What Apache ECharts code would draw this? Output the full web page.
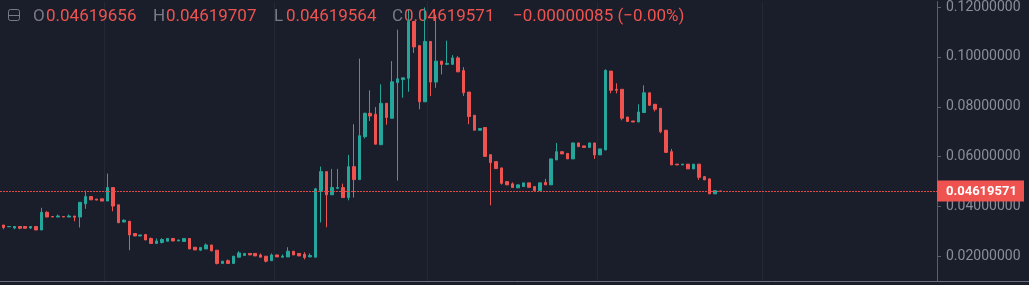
<!DOCTYPE html>
<html>
<head>
<meta charset="utf-8">
<script src="https://cdn.jsdelivr.net/npm/echarts@6/dist/echarts.min.js"></script>
<style>
  html, body { margin: 0; padding: 0; background: #1a1e2b; }
  #chart { width: 1029px; height: 285px; }
</style>
</head>
<body>
<div id="chart"></div>
<script>
// daily candles, [open, close, low, high] split into separate lists
const opens = [
  0.0326, 0.0319, 0.0314, 0.0320, 0.0320, 0.0314, 0.0320, 0.0306, 0.0377, 0.0360,
  0.0358, 0.0360, 0.0358, 0.0362, 0.0358, 0.0411, 0.0440, 0.0430, 0.0431, 0.0422,
  0.0476, 0.0407, 0.0338, 0.0341, 0.0292, 0.0282, 0.0288, 0.0272, 0.0252, 0.0256,
  0.0261, 0.0272, 0.0262, 0.0260, 0.0272, 0.0237, 0.0225, 0.0230, 0.0246, 0.0225,
  0.0172, 0.0183, 0.0172, 0.0197, 0.0204, 0.0212, 0.0212, 0.0206, 0.0201, 0.0183,
  0.0206, 0.0197, 0.0198, 0.0221, 0.0212, 0.0209, 0.0198, 0.0197, 0.0464, 0.0540,
  0.0447, 0.0473, 0.0476, 0.0436, 0.0560, 0.0508, 0.0680, 0.0774, 0.0770, 0.0648,
  0.0814, 0.0754, 0.0897, 0.0909, 0.0914, 0.1142, 0.1045, 0.0820, 0.1062, 0.0899,
  0.0983, 0.0970, 0.0970, 0.0996, 0.0945, 0.0859, 0.0766, 0.0706, 0.0717, 0.0608,
  0.0580, 0.0555, 0.0500, 0.0491, 0.0475, 0.0480, 0.0495, 0.0480, 0.0464, 0.0497,
  0.0487, 0.0587, 0.0620, 0.0613, 0.0591, 0.0655, 0.0643, 0.0637, 0.0655, 0.0607,
  0.0627, 0.0943, 0.0870, 0.0870, 0.0759, 0.0743, 0.0739, 0.0777, 0.0856, 0.0810,
  0.0794, 0.0706, 0.0620, 0.0570, 0.0567, 0.0570, 0.0551, 0.0570, 0.0520, 0.0511,
  0.0451, 0.04619656
];
const closes = [
  0.0316, 0.0320, 0.0320, 0.0313, 0.0313, 0.0320, 0.0306, 0.0377, 0.0358, 0.0358,
  0.0362, 0.0358, 0.0362, 0.0357, 0.0417, 0.0440, 0.0427, 0.0426, 0.0422, 0.0476,
  0.0402, 0.0335, 0.0345, 0.0286, 0.0282, 0.0286, 0.0266, 0.0252, 0.0262, 0.0268,
  0.0272, 0.0262, 0.0266, 0.0272, 0.0230, 0.0226, 0.0236, 0.0246, 0.0222, 0.0172,
  0.0181, 0.0172, 0.0201, 0.0214, 0.0212, 0.0206, 0.0202, 0.0197, 0.0181, 0.0206,
  0.0198, 0.0201, 0.0221, 0.0206, 0.0202, 0.0196, 0.0204, 0.0471, 0.0540, 0.0447,
  0.0476, 0.0476, 0.0436, 0.0560, 0.0508, 0.0684, 0.0774, 0.0763, 0.0650, 0.0814,
  0.0757, 0.0900, 0.0912, 0.0916, 0.1142, 0.1040, 0.0820, 0.1062, 0.0899, 0.0983,
  0.0970, 0.0974, 0.0996, 0.0940, 0.0856, 0.0761, 0.0706, 0.0713, 0.0601, 0.0576,
  0.0552, 0.0493, 0.0487, 0.0476, 0.0487, 0.0495, 0.0477, 0.0464, 0.0495, 0.0487,
  0.0591, 0.0620, 0.0611, 0.0591, 0.0655, 0.0640, 0.0637, 0.0655, 0.0607, 0.0631,
  0.0946, 0.0866, 0.0866, 0.0754, 0.0741, 0.0739, 0.0779, 0.0856, 0.0806, 0.0790,
  0.0700, 0.0617, 0.0567, 0.0567, 0.0570, 0.0551, 0.0570, 0.0517, 0.0507, 0.0451,
  0.0464, 0.04619571
];
const lows = [
  0.0309, 0.0319, 0.0309, 0.0309, 0.0311, 0.0310, 0.0306, 0.0306, 0.0358, 0.0358,
  0.0358, 0.0358, 0.0358, 0.0341, 0.0316, 0.0391, 0.0427, 0.0426, 0.0422, 0.0422,
  0.0381, 0.0335, 0.0338, 0.0225, 0.0282, 0.0282, 0.0266, 0.0252, 0.0252, 0.0252,
  0.0261, 0.0262, 0.0262, 0.0260, 0.0230, 0.0226, 0.0222, 0.0230, 0.0222, 0.0168,
  0.0172, 0.0172, 0.0172, 0.0197, 0.0204, 0.0206, 0.0202, 0.0197, 0.0176, 0.0183,
  0.0198, 0.0197, 0.0198, 0.0206, 0.0202, 0.0188, 0.0198, 0.0197, 0.0336, 0.0317,
  0.0447, 0.0470, 0.0436, 0.0425, 0.0436, 0.0506, 0.0673, 0.0743, 0.0650, 0.0648,
  0.0728, 0.0754, 0.0504, 0.0836, 0.0860, 0.1016, 0.0790, 0.0820, 0.0843, 0.0876,
  0.0930, 0.0967, 0.0970, 0.0940, 0.0843, 0.0730, 0.0706, 0.0706, 0.0601, 0.0405,
  0.0552, 0.0488, 0.0487, 0.0476, 0.0475, 0.0480, 0.0477, 0.0458, 0.0464, 0.0487,
  0.0487, 0.0587, 0.0611, 0.0591, 0.0591, 0.0640, 0.0637, 0.0637, 0.0591, 0.0607,
  0.0627, 0.0854, 0.0854, 0.0746, 0.0741, 0.0739, 0.0739, 0.0777, 0.0806, 0.0781,
  0.0694, 0.0617, 0.0567, 0.0567, 0.0567, 0.0551, 0.0551, 0.0507, 0.0507, 0.0451,
  0.0451, 0.04619564
];
const highs = [
  0.0326, 0.0320, 0.0320, 0.0320, 0.0320, 0.0320, 0.0320, 0.0395, 0.0381, 0.0360,
  0.0368, 0.0360, 0.0368, 0.0362, 0.0417, 0.0464, 0.0441, 0.0430, 0.0431, 0.0532,
  0.0476, 0.0407, 0.0349, 0.0341, 0.0292, 0.0286, 0.0288, 0.0276, 0.0272, 0.0273,
  0.0272, 0.0272, 0.0266, 0.0272, 0.0272, 0.0237, 0.0236, 0.0252, 0.0246, 0.0225,
  0.0181, 0.0188, 0.0201, 0.0221, 0.0212, 0.0212, 0.0212, 0.0212, 0.0201, 0.0212,
  0.0206, 0.0208, 0.0237, 0.0221, 0.0212, 0.0217, 0.0212, 0.0475, 0.0560, 0.0540,
  0.0551, 0.0551, 0.0492, 0.0607, 0.0730, 0.0993, 0.0776, 0.0866, 0.0799, 0.0890,
  0.0814, 0.0983, 0.1109, 0.0916, 0.1189, 0.1142, 0.1045, 0.1198, 0.1062, 0.1169,
  0.0983, 0.1065, 0.1007, 0.1003, 0.0959, 0.0859, 0.0766, 0.0713, 0.0717, 0.0608,
  0.0580, 0.0555, 0.0500, 0.0497, 0.0487, 0.0495, 0.0495, 0.0480, 0.0495, 0.0511,
  0.0591, 0.0655, 0.0620, 0.0613, 0.0655, 0.0655, 0.0643, 0.0655, 0.0655, 0.0631,
  0.0950, 0.0943, 0.0894, 0.0870, 0.0759, 0.0743, 0.0810, 0.0886, 0.0856, 0.0810,
  0.0794, 0.0706, 0.0631, 0.0570, 0.0570, 0.0570, 0.0570, 0.0570, 0.0520, 0.0511,
  0.0464, 0.04619707
];

// empty slots keep running to the right of the last candle
const totalSlots = 171;
// first day of each month (slot index), drawn as vertical grid lines
const monthStarts = [19, 50, 78, 109, 139];
const priceTicks = [0.02, 0.04, 0.06, 0.08, 0.10, 0.12];
// visible price range of the pane
const yMin = 0.010152;
const yMax = 0.122193;

const lastIdx = closes.length - 1;
const lastClose = closes[lastIdx];
const change = closes[lastIdx] - opens[lastIdx];

const categories = [];
for (let i = 0; i < totalSlots; i++) categories.push(String(i));

const candles = opens.map((o, i) => [o, closes[i], lows[i], highs[i]]);

const UP = '#26a69a';
const DOWN = '#ef5350';
const GRAY = '#787b86';
const AXIS = '#5b5f6c';
const GRID_RIGHT = 92;
const W = 1029;

const chart = echarts.init(document.getElementById('chart'), null, { renderer: 'canvas' });

chart.setOption({
  backgroundColor: '#1a1e2b',
  animation: false,
  grid: { left: 0.6, right: GRID_RIGHT, top: 0, height: 281 },
  xAxis: {
    type: 'category',
    data: categories,
    boundaryGap: true,
    axisLine: { show: false },
    axisTick: { show: false },
    axisLabel: { show: false },
    splitLine: {
      show: true,
      interval: (idx) => monthStarts.indexOf(idx) >= 0,
      lineStyle: { color: '#222836', width: 1 }
    }
  },
  yAxis: {
    type: 'value',
    position: 'right',
    min: yMin,
    max: yMax,
    axisLine: { show: true, lineStyle: { color: AXIS } },
    axisTick: { show: true, length: 4, customValues: priceTicks, lineStyle: { color: AXIS } },
    axisLabel: {
      color: '#8a8e99',
      fontFamily: 'Roboto',
      fontSize: 14,
      margin: 9,
      customValues: priceTicks,
      formatter: (v) => v.toFixed(8)
    },
    splitLine: { show: false }
  },
  series: [{
    type: 'candlestick',
    data: candles,
    barWidth: 3,
    itemStyle: {
      color: UP,
      color0: DOWN,
      borderColor: UP,
      borderColor0: DOWN,
      borderWidth: 1
    }
  }]
});

// last-price line and tag, placed through the y scale
const py = chart.convertToPixel({ yAxisIndex: 0 }, lastClose);
const lineY = Math.floor(py) + 0.5;
const axisX = W - GRID_RIGHT;

const legendFont = '17px Roboto';
function legendText(x, text, fill) {
  return { type: 'text', x: x, y: 17, z: 1,
    style: { text: text, font: legendFont, fill: fill, verticalAlign: 'middle' } };
}
const changeText = '\u2212' + Math.abs(change).toFixed(8) +
  ' (\u2212' + Math.abs(change / opens[lastIdx] * 100).toFixed(2) + '%)';

chart.setOption({
  graphic: [
    // collapse icon
    { type: 'rect', shape: { x: 8.5, y: 9.5, width: 11, height: 11, r: 2 },
      style: { fill: 'none', stroke: GRAY, lineWidth: 1 } },
    { type: 'line', shape: { x1: 8.5, y1: 15.5, x2: 19.5, y2: 15.5 },
      style: { stroke: GRAY, lineWidth: 1 } },
    legendText(33, 'O', GRAY),
    legendText(46, opens[lastIdx].toFixed(8), DOWN),
    legendText(153, 'H', GRAY),
    legendText(166, highs[lastIdx].toFixed(8), DOWN),
    legendText(274, 'L', GRAY),
    legendText(286, lows[lastIdx].toFixed(8), DOWN),
    legendText(392, 'C', GRAY),
    legendText(404, lastClose.toFixed(8), DOWN),
    legendText(513, changeText, DOWN),
    // bottom border of the pane
    { type: 'line', shape: { x1: 0, y1: 281.5, x2: W, y2: 281.5 },
      style: { stroke: '#6a6e7a', lineWidth: 1 } },
    // dashed last-price line and its tag on the axis
    { type: 'line', z: 50, shape: { x1: 0, y1: lineY, x2: axisX, y2: lineY },
      style: { stroke: '#e04848', lineWidth: 1, lineDash: [2, 1] } },
    { type: 'rect', z: 50, shape: { x: axisX, y: lineY - 11, width: 87, height: 21 },
      style: { fill: DOWN } },
    { type: 'text', z: 51, x: axisX + 9, y: lineY, style: {
        text: lastClose.toFixed(8), font: 'bold 13px Roboto', fill: '#ffffff', verticalAlign: 'middle' } }
  ]
});
</script>
</body>
</html>
